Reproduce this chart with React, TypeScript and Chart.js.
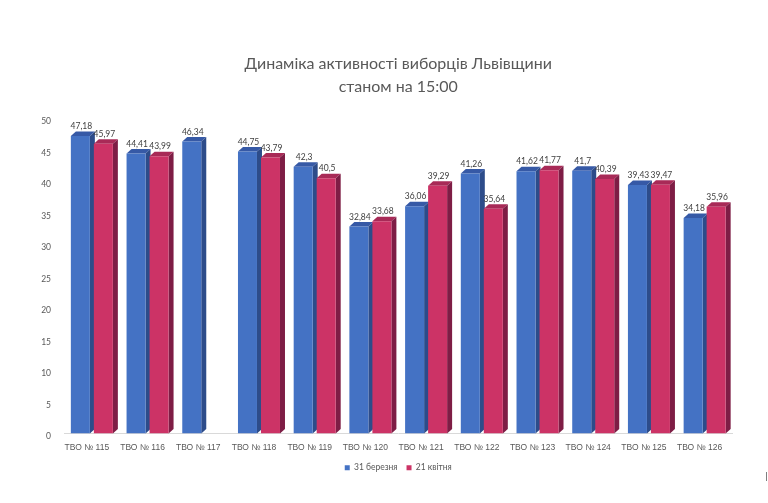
import React, { useEffect, useRef } from 'react';
import { Chart, registerables } from 'chart.js';

Chart.register(...registerables);

const categories = [
  'ТВО № 115', 'ТВО № 116', 'ТВО № 117', 'ТВО № 118', 'ТВО № 119', 'ТВО № 120',
  'ТВО № 121', 'ТВО № 122', 'ТВО № 123', 'ТВО № 124', 'ТВО № 125', 'ТВО № 126',
];
const march31 = [47.18, 44.41, 46.34, 44.75, 42.3, 32.84, 36.06, 41.26, 41.62, 41.7, 39.43, 34.18];
const april21 = [45.97, 43.99, null, 43.79, 40.5, 33.68, 39.29, 35.64, 41.77, 40.39, 39.47, 35.96];
const seriesNames = ['31 березня', '21 квітня'];
const titleLines = ['Динаміка активності виборців Львівщини', 'станом на 15:00'];
const yMin = 0;
const yMax = 50;
const yStep = 5;

const FONT = 'Lato, "Noto Sans", sans-serif';
const ARIAL = '"Liberation Sans", Arial, sans-serif';
const DX = 5;
const DY = 4.5;
const shades = [
  { front: '#4472C4', top: '#3659A6', side: '#2D4C8A' },
  { front: '#CC3366', top: '#A82A57', side: '#7E1D45' },
];

const bars3d = {
  id: 'bars3d',
  beforeDatasetsDraw(chart: any) {
    const ctx = chart.ctx;
    ctx.save();
    chart.data.datasets.forEach((ds: any, di: number) => {
      const meta = chart.getDatasetMeta(di);
      const c = shades[di];
      meta.data.forEach((bar: any, i: number) => {
        if (ds.data[i] == null) return;
        const { x, y, base, width } = bar.getProps(['x', 'y', 'base', 'width'], true);
        const l = x - width / 2;
        const r = x + width / 2;
        ctx.fillStyle = c.top;
        ctx.beginPath();
        ctx.moveTo(l, y);
        ctx.lineTo(l + DX, y - DY);
        ctx.lineTo(r + DX, y - DY);
        ctx.lineTo(r, y);
        ctx.closePath();
        ctx.fill();
        ctx.fillStyle = c.side;
        ctx.beginPath();
        ctx.moveTo(r, y);
        ctx.lineTo(r + DX, y - DY);
        ctx.lineTo(r + DX, base - DY);
        ctx.lineTo(r, base);
        ctx.closePath();
        ctx.fill();
      });
    });
    ctx.restore();
  },
  afterDatasetsDraw(chart: any) {
    const ctx = chart.ctx;
    ctx.save();
    ctx.font = `8.5px ${FONT}`;
    ctx.fillStyle = '#404040';
    ctx.textAlign = 'center';
    ctx.textBaseline = 'middle';
    chart.data.datasets.forEach((ds: any, di: number) => {
      const meta = chart.getDatasetMeta(di);
      meta.data.forEach((bar: any, i: number) => {
        const v = ds.data[i];
        if (v == null) return;
        const { x, y } = bar.getProps(['x', 'y'], true);
        ctx.fillText(String(v).replace('.', ','), x + 1, y - 9.5);
      });
    });
    ctx.restore();
  },
};

export default function App() {
  const ref = useRef<HTMLCanvasElement>(null);
  useEffect(() => {
    if (!ref.current) return;
    const chart = new Chart(ref.current, {
      type: 'bar',
      data: {
        labels: categories,
        datasets: [
          { label: seriesNames[0], data: march31, backgroundColor: shades[0].front, borderWidth: 0 },
          { label: seriesNames[1], data: april21 as any, backgroundColor: shades[1].front, borderWidth: 0 },
        ],
      },
      options: {
        responsive: false,
        animation: false,
        events: [],
        categoryPercentage: 0.826,
        barPercentage: 0.826,
        layout: { padding: { left: 0, right: 35.5, top: 52.5, bottom: 21 } },
        plugins: {
          title: {
            display: true,
            fullSize: false,
            text: titleLines,
            color: '#595959',
            font: { family: FONT, size: 16, weight: 'normal', lineHeight: 1.42 },
            padding: { top: 0, bottom: 20.4 },
          },
          legend: {
            position: 'bottom',
            fullSize: false,
            labels: {
              boxWidth: 5,
              boxHeight: 5,
              padding: 9,
              color: '#595959',
              font: { family: FONT, size: 8.5 },
            },
          },
          tooltip: { enabled: false },
        },
        scales: {
          x: {
            grid: { display: false, drawTicks: false },
            border: { display: true, color: '#D9D9D9', width: 1 },
            ticks: { color: '#595959', font: { family: ARIAL, size: 8.5 }, padding: 9, labelOffset: -5, maxRotation: 0, autoSkip: false },
            afterFit: (s: any) => { s.height = 21; },
          },
          y: {
            min: yMin,
            max: yMax,
            grid: { display: false, drawTicks: false },
            border: { display: false },
            ticks: { stepSize: yStep, color: '#595959', font: { family: FONT, size: 8.5 }, padding: 13, labelOffset: 3 },
            afterFit: (s: any) => { s.width = 64; },
          },
        },
      },
      plugins: [bars3d],
    });
    return () => chart.destroy();
  }, []);
  return (
    <div style={{ position: 'absolute', left: 0, top: 0, width: 768, height: 503, background: '#fff' }}>
      <canvas ref={ref} width={768} height={503} style={{ width: 768, height: 503, display: 'block' }} />
      <div style={{ position: 'absolute', left: 766, top: 472, width: 1, height: 9, background: '#7F7F7F' }} />
    </div>
  );
}
